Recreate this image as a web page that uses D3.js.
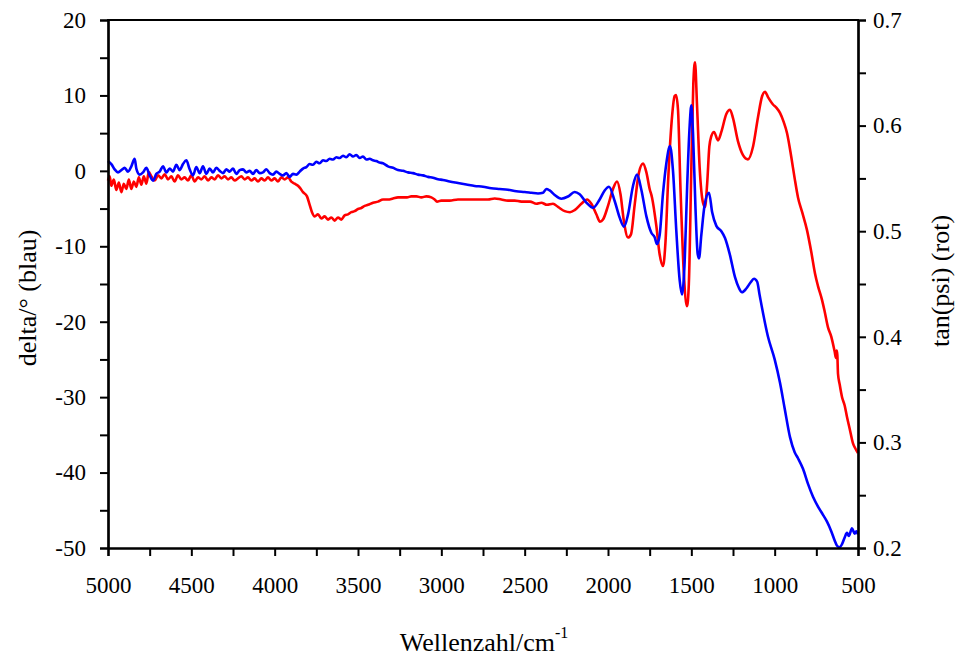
<!DOCTYPE html>
<html><head><meta charset="utf-8">
<script src="https://cdn.jsdelivr.net/npm/d3@7"></script>
<style>body{margin:0;background:#fff}svg{display:block}</style>
</head><body>
<script>
// ---- data ----
const xTicks = [5000,4500,4000,3500,3000,2500,2000,1500,1000,500];
const leftTicks = [20,10,0,-10,-20,-30,-40,-50];
const rightTicks = [0.7,0.6,0.5,0.4,0.3,0.2];

const blueWavenumber = [5000,4990,4980,4960,4940,4920,4900,4880,4860,4840,4830,4810,4790,4770,4750,4730,4710,4690,4670,4650,4630,4610,4590,4570,4550,4530,4510,4490,4470,4450,4430,4410,4390,4370,4350,4330,4310,4290,4270,4250,4230,4210,4190,4170,4150,4130,4110,4090,4070,4050,4030,4010,3990,3970,3950,3930,3910,3890,3870,3850,3830,3810,3790,3770,3750,3730,3710,3690,3670,3650,3630,3610,3590,3570,3550,3530,3510,3490,3470,3450,3430,3410,3390,3370,3350,3320,3290,3260,3230,3200,3170,3140,3110,3080,3050,3020,2990,2950,2900,2850,2800,2750,2700,2650,2600,2550,2500,2460,2420,2390,2370,2350,2320,2280,2240,2200,2170,2130,2090,2050,2020,1994,1960,1930,1904,1880,1850,1826,1800,1770,1740,1720,1706,1690,1670,1650,1628,1610,1590,1570,1556,1540,1525,1510,1500,1490,1475,1462,1454,1440,1420,1394,1375,1350,1320,1298,1270,1238,1215,1196,1170,1145,1124,1105,1090,1040,1000,968,940,908,880,860,830,800,770,740,710,686,660,640,626,610,596,580,566,555,536,520,510,500];
const blueDelta = [1.3,1.1,0.9,0.2,-0.2,0.1,0.4,-0.1,0.6,1.6,0.3,-0.5,-0.2,0.4,-0.6,-1.3,-0.4,-0.1,0.6,-0.2,0.3,-0.1,0.8,0.1,0.9,1.4,0.2,-0.6,0.5,-0.3,0.6,-0.4,0.3,-0.2,0.4,0.0,-0.3,0.2,-0.1,0.3,-0.4,0.1,0.2,-0.2,0.0,-0.4,0.1,-0.3,-0.2,0.2,-0.3,-0.5,-0.1,-0.4,-0.6,-0.3,-0.8,-0.4,-0.5,-0.1,0.3,0.5,0.9,0.8,1.2,1.0,1.4,1.3,1.6,1.5,1.8,1.7,2.0,1.8,2.2,1.9,2.1,1.7,1.9,1.5,1.6,1.4,1.3,1.1,1.0,0.6,0.4,0.1,0.0,-0.2,-0.3,-0.5,-0.6,-0.8,-0.9,-1.1,-1.2,-1.4,-1.6,-1.8,-2.0,-2.1,-2.3,-2.4,-2.5,-2.7,-2.8,-2.9,-3.0,-2.9,-2.4,-2.6,-3.2,-3.7,-3.4,-2.8,-3.1,-4.2,-4.9,-3.8,-2.6,-2.1,-4.0,-6.2,-7.4,-5.8,-2.0,-0.5,-2.5,-6.0,-8.2,-8.8,-9.7,-8.5,-3.0,1.0,3.3,0.0,-8.0,-14.5,-16.4,-12.0,-2.0,6.0,8.7,5.0,-5.0,-11.0,-11.6,-8.5,-4.5,-2.9,-5.5,-7.3,-8.0,-8.9,-11.0,-14.1,-15.5,-16.1,-15.6,-14.8,-14.3,-14.7,-16.5,-22.0,-25.0,-28.1,-31.5,-35.3,-37.3,-38.1,-39.5,-41.5,-43.2,-44.5,-45.6,-46.5,-47.8,-49.0,-49.7,-49.9,-49.5,-48.6,-48.0,-48.4,-47.4,-48.1,-47.8,-48.2];

const redWavenumber = [5000,4990,4980,4965,4950,4935,4920,4905,4890,4875,4860,4845,4830,4815,4800,4785,4770,4755,4740,4720,4700,4680,4660,4640,4620,4600,4580,4560,4540,4520,4500,4480,4460,4440,4420,4400,4380,4360,4340,4320,4300,4280,4260,4240,4220,4200,4180,4160,4140,4120,4100,4080,4060,4040,4020,4000,3980,3960,3940,3920,3900,3880,3860,3848,3830,3806,3790,3776,3760,3740,3720,3700,3680,3660,3640,3620,3600,3580,3560,3540,3520,3500,3480,3460,3440,3410,3380,3350,3320,3290,3260,3230,3206,3180,3150,3120,3090,3060,3040,3026,3000,2950,2900,2850,2800,2768,2720,2680,2640,2600,2560,2520,2468,2430,2400,2366,2330,2300,2260,2228,2200,2160,2126,2100,2070,2048,2030,2000,1970,1946,1925,1905,1880,1862,1840,1815,1790,1770,1750,1736,1710,1690,1670,1655,1640,1620,1600,1592,1580,1565,1545,1526,1515,1500,1488,1478,1466,1450,1430,1418,1405,1392,1380,1364,1340,1320,1290,1268,1250,1220,1190,1160,1130,1100,1075,1058,1040,1010,990,968,945,926,900,880,860,835,806,780,758,740,716,700,680,660,640,632,628,624,620,610,596,580,566,550,530,515,500];
const redTanPsi = [0.548,0.552,0.543,0.549,0.539,0.546,0.537,0.545,0.540,0.549,0.540,0.547,0.542,0.551,0.544,0.552,0.545,0.556,0.552,0.548,0.553,0.550,0.554,0.549,0.552,0.547,0.553,0.549,0.551,0.548,0.553,0.547,0.551,0.549,0.552,0.548,0.551,0.549,0.553,0.550,0.552,0.549,0.551,0.548,0.550,0.552,0.549,0.551,0.548,0.550,0.547,0.550,0.548,0.551,0.548,0.550,0.547,0.551,0.549,0.551,0.547,0.545,0.543,0.541,0.537,0.533,0.525,0.518,0.514,0.516,0.512,0.514,0.511,0.513,0.510,0.513,0.511,0.515,0.516,0.518,0.519,0.521,0.522,0.524,0.525,0.527,0.528,0.530,0.530,0.531,0.532,0.532,0.532,0.533,0.533,0.532,0.533,0.532,0.530,0.528,0.529,0.529,0.530,0.530,0.530,0.530,0.530,0.531,0.530,0.529,0.529,0.528,0.528,0.526,0.527,0.525,0.526,0.523,0.519,0.518,0.520,0.526,0.530,0.526,0.516,0.509,0.511,0.524,0.540,0.547,0.535,0.510,0.494,0.497,0.525,0.555,0.564,0.556,0.540,0.532,0.505,0.478,0.467,0.490,0.545,0.600,0.628,0.629,0.615,0.540,0.460,0.429,0.450,0.560,0.640,0.660,0.620,0.560,0.527,0.523,0.545,0.580,0.590,0.594,0.586,0.594,0.611,0.615,0.607,0.585,0.572,0.568,0.580,0.608,0.628,0.632,0.627,0.620,0.617,0.612,0.603,0.593,0.570,0.550,0.532,0.518,0.501,0.480,0.460,0.448,0.435,0.424,0.409,0.400,0.386,0.380,0.387,0.383,0.365,0.355,0.343,0.335,0.324,0.313,0.299,0.294,0.290];

// ---- chart ----
const W = 956, H = 659;
const X0 = 108, X1 = 858, Y0 = 20, Y1 = 548;
const FONT = "Liberation Serif";
const FS = 23, TFS = 26;

const svg = d3.select("body").append("svg").attr("width", W).attr("height", H);

const x = d3.scaleLinear().domain([5000, 500]).range([X0, X1]);
const yL = d3.scaleLinear().domain([-50, 20]).range([Y1, Y0]);
const yR = d3.scaleLinear().domain([0.2, 0.7]).range([Y1, Y0]);

const blue = blueWavenumber.map((w, i) => [w, blueDelta[i]]);
const red = redWavenumber.map((w, i) => [w, redTanPsi[i]]);

const lineB = d3.line().x(d => x(d[0])).y(d => yL(d[1])).curve(d3.curveMonotoneX);
const lineR = d3.line().x(d => x(d[0])).y(d => yR(d[1])).curve(d3.curveMonotoneX);

svg.append("path").datum(red).attr("d", lineR).attr("fill", "none")
  .attr("stroke", "#ff0000").attr("stroke-width", 2.6).attr("stroke-linejoin", "round");
svg.append("path").datum(blue).attr("d", lineB).attr("fill", "none")
  .attr("stroke", "#0000ff").attr("stroke-width", 2.6).attr("stroke-linejoin", "round");

function styleAxis(g) {
  g.attr("font-family", FONT).attr("font-size", FS);
  g.select(".domain").attr("stroke", "#000").attr("stroke-width", 2.2);
  g.selectAll(".tick line").attr("stroke", "#000").attr("stroke-width", 2);
  g.selectAll(".tick text").attr("fill", "#000").attr("font-family", FONT).attr("font-size", FS);
}

const plain = d => String(d);

// minor ticks
const minorX = d3.range(750, 5000, 500);
const minorL = d3.range(-45, 20, 10);
const minorR = [0.25, 0.35, 0.45, 0.55, 0.65];

svg.append("g").attr("transform", `translate(0,${Y1})`)
  .call(d3.axisBottom(x).tickValues(minorX).tickSize(8).tickFormat(""))
  .call(styleAxis);
svg.append("g").attr("transform", `translate(${X0},0)`)
  .call(d3.axisLeft(yL).tickValues(minorL).tickSize(8).tickFormat(""))
  .call(styleAxis);
svg.append("g").attr("transform", `translate(${X1},0)`)
  .call(d3.axisRight(yR).tickValues(minorR).tickSize(8).tickFormat(""))
  .call(styleAxis);

// major
svg.append("g").attr("transform", `translate(0,${Y1})`)
  .call(d3.axisBottom(x).tickValues(xTicks).tickSize(8).tickSizeOuter(0).tickPadding(21).tickFormat(plain))
  .call(styleAxis);
svg.append("g").attr("transform", `translate(${X0},0)`)
  .call(d3.axisLeft(yL).tickValues(leftTicks).tickSize(8).tickSizeOuter(0).tickPadding(14).tickFormat(plain))
  .call(styleAxis);
svg.append("g").attr("transform", `translate(${X1},0)`)
  .call(d3.axisRight(yR).tickValues(rightTicks).tickSize(8).tickSizeOuter(0).tickPadding(7).tickFormat(d3.format(".1f")))
  .call(styleAxis);
// top border
svg.append("line").attr("x1", X0 - 1).attr("x2", X1 + 1).attr("y1", Y0).attr("y2", Y0)
  .attr("stroke", "#000").attr("stroke-width", 2.2);

// titles
const xt = svg.append("text").attr("x", 484).attr("y", 651).attr("text-anchor", "middle")
  .attr("font-family", FONT).attr("font-size", TFS);
xt.append("tspan").text("Wellenzahl/cm");
xt.append("tspan").attr("dy", -13).attr("font-size", 16).text("-1");

svg.append("text").attr("transform", "translate(36,298) rotate(-90)").attr("text-anchor", "middle")
  .attr("font-family", FONT).attr("font-size", TFS).text("delta/° (blau)");
svg.append("text").attr("transform", "translate(949,281) rotate(-90)").attr("text-anchor", "middle")
  .attr("font-family", FONT).attr("font-size", TFS).text("tan(psi) (rot)");
</script>
</body></html>
